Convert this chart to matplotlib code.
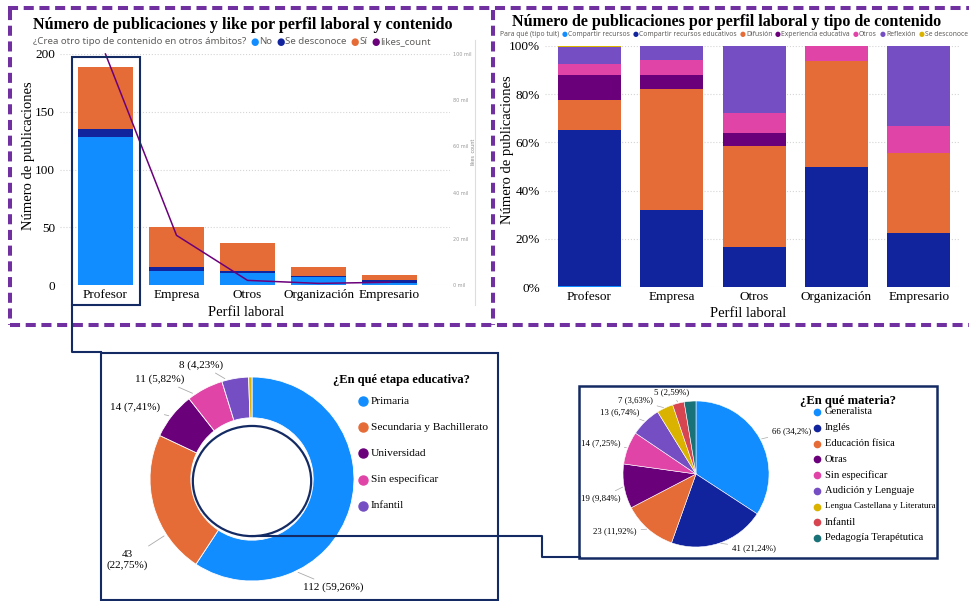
import numpy as np
import matplotlib
matplotlib.use('Agg')
import matplotlib.pyplot as plt
from matplotlib.patches import Rectangle, Ellipse

W, H = 970, 601
SERIF = 'Liberation Serif'
SANS = 'Noto Sans'
GREY = '#605E5C'
NAVY_LINE = '#142A63'
PURPLE_DASH = '#7030A0'

# Power BI palette
C_LBLUE = '#118DFF'
C_NAVY = '#12239E'
C_ORANGE = '#E66C37'
C_DPURPLE = '#6B007B'
C_PINK = '#E044A7'
C_VIOLET = '#744EC2'
C_GOLD = '#D9B300'
C_RED = '#D64550'
C_TEAL = '#197278'

# --- publicaciones y likes por perfil laboral ---
perfiles = ['Profesor', 'Empresa', 'Otros', 'Organización', 'Empresario']
crea_no = [128, 12, 10, 7, 2]
crea_desconoce = [7, 4, 2, 1, 2]
crea_si = [54, 34, 24, 8, 5]
likes_mil = [100, 21.5, 2, 0.7, 1.2]

# --- tipo de contenido por perfil laboral ---
tipos = ['Compartir recursos', 'Compartir recursos educativos', 'Difusión',
         'Experiencia educativa', 'Otros', 'Reflexión', 'Se desconoce']
t_compartir = [1, 0, 0, 0, 0]
t_compartir_edu = [122, 16, 6, 8, 2]
t_difusion = [24, 25, 15, 7, 3]
t_experiencia = [19, 3, 2, 0, 0]
t_otros = [9, 3, 3, 1, 1]
t_reflexion = [13, 3, 10, 0, 3]
t_desconoce = [1, 0, 0, 0, 0]

# --- etapa educativa ---
etapas = ['Primaria', 'Secundaria y Bachillerato', 'Universidad', 'Sin especificar', 'Infantil', 'Se desconoce']
etapa_n = [112, 43, 14, 11, 8, 1]

# --- materia ---
materias = ['Generalista', 'Inglés', 'Educación física', 'Otras', 'Sin especificar',
            'Audición y Lenguaje', 'Lengua Castellana y Literatura', 'Infantil',
            'Pedagogía Terapétutica']
materia_n = [66, 41, 23, 19, 14, 13, 7, 5, 5]


def box(x0, y0, x1, y1):
    return [x0 / W, 1 - y1 / H, (x1 - x0) / W, (y1 - y0) / H]


def pct_label(n, total):
    s = '{:.2f}'.format(100 * n / total).rstrip('0').rstrip('.')
    return '{} ({}%)'.format(n, s.replace('.', ','))


fig = plt.figure(figsize=(W / 100, H / 100), dpi=100)
ov = fig.add_axes([0, 0, 1, 1], zorder=10)
ov.set_xlim(0, W)
ov.set_ylim(H, 0)
ov.axis('off')
ov.patch.set_alpha(0)

x = np.arange(len(perfiles))

# left chart: stacked bars + likes line
ax1 = fig.add_axes(box(60, 54, 450, 285))
b1 = np.array(crea_no)
b2 = b1 + np.array(crea_desconoce)
ax1.bar(x, crea_no, 0.775, color=C_LBLUE, zorder=2)
ax1.bar(x, crea_desconoce, 0.775, bottom=b1, color=C_NAVY, zorder=2)
ax1.bar(x, crea_si, 0.775, bottom=b2, color=C_ORANGE, zorder=2)
ax1.set_xlim(-0.64, 4.85)
ax1.set_ylim(0, 200)
ax1.set_yticks([0, 50, 100, 150, 200])
ax1.grid(axis='y', linestyle=':', color='#d5d5d5', lw=0.8, zorder=0)
ax1.set_xticks(x, perfiles)
ax1.tick_params(length=0, labelsize=9.5)
ax1.tick_params(axis='x', pad=3)
for lab in ax1.get_xticklabels() + ax1.get_yticklabels():
    lab.set_family(SERIF)
ax1.set_xlabel('Perfil laboral', family=SERIF, fontsize=10.5)
ax1.xaxis.set_label_coords(0.476, -0.117)
ax1.xaxis.label.set_va('center')
ax1.set_ylabel('Número de publicaciones', family=SERIF, fontsize=10.5)
ax1.yaxis.set_label_coords(-0.08, 0.558)
ax1.yaxis.label.set_va('center')
for s in ax1.spines.values():
    s.set_visible(False)

ax1b = ax1.twinx()
ax1b.plot(x, likes_mil, color=C_DPURPLE, lw=1.1, clip_on=False, zorder=3)
ax1b.set_ylim(0, 100)
ax1b.set_yticks(range(0, 101, 20), ['{} mil'.format(v) for v in range(0, 101, 20)])
ax1b.tick_params(length=0, labelsize=3.5, labelcolor='#999999', pad=2)
ax1b.set_ylabel('likes_count', fontsize=3.5, color='#888888')
ax1b.yaxis.set_label_coords(1.05, 0.58)
for s in ax1b.spines.values():
    s.set_visible(False)
ov.plot([475, 475], [40, 305], color='#dddddd', lw=0.8)

# right chart: 100% stacked bars
ax2 = fig.add_axes(box(545, 46, 960, 287))
series = [t_compartir, t_compartir_edu, t_difusion, t_experiencia, t_otros, t_reflexion, t_desconoce]
colors2 = [C_LBLUE, C_NAVY, C_ORANGE, C_DPURPLE, C_PINK, C_VIOLET, C_GOLD]
totals = np.sum(np.array(series), axis=0)
bottom = np.zeros(len(perfiles))
for vals, col in zip(series, colors2):
    frac = np.array(vals) / totals
    ax2.bar(x, frac, 0.766, bottom=bottom, color=col, zorder=2)
    bottom += frac
ax2.set_xlim(-0.54, 4.5)
ax2.set_ylim(0, 1)
ax2.set_yticks(np.linspace(0, 1, 6), ['{}%'.format(v) for v in range(0, 101, 20)])
ax2.grid(axis='y', linestyle=':', color='#d5d5d5', lw=0.8, zorder=0)
ax2.set_xticks(x, perfiles)
ax2.tick_params(length=0, labelsize=9.5)
ax2.tick_params(axis='x', pad=3)
for lab in ax2.get_xticklabels() + ax2.get_yticklabels():
    lab.set_family(SERIF)
ax2.set_xlabel('Perfil laboral', family=SERIF, fontsize=10.5)
ax2.xaxis.set_label_coords(0.489, -0.108)
ax2.xaxis.label.set_va('center')
ax2.set_ylabel('Número de publicaciones', family=SERIF, fontsize=10.5)
ax2.yaxis.set_label_coords(-0.09, 0.57)
ax2.yaxis.label.set_va('center')
for s in ax2.spines.values():
    s.set_visible(False)

# titles
ov.text(33, 25, 'Número de publicaciones y like por perfil laboral y contenido',
        family=SERIF, fontweight='bold', fontsize=11.6, va='center')
ov.text(512, 22, 'Número de publicaciones por perfil laboral y tipo de contenido',
        family=SERIF, fontweight='bold', fontsize=11.6, va='center')

renderer = fig.canvas.get_renderer()


def inline_legend(x0, y, title, items, size, gap):
    t = ov.text(x0, y, title, family=SANS, fontsize=size, fontweight='bold', color=GREY, va='center')
    xc = t.get_window_extent(renderer).x1 + gap
    for label, col in items:
        d = ov.text(xc, y, '●', family='DejaVu Sans', fontsize=size, color=col, va='center')
        xc = d.get_window_extent(renderer).x1 + 0.5
        t = ov.text(xc, y, label, family=SANS, fontsize=size, color=GREY, va='center')
        xc = t.get_window_extent(renderer).x1 + gap


inline_legend(33, 42, '¿Crea otro tipo de contenido en otros ámbitos?',
              [('No', C_LBLUE), ('Se desconoce', C_NAVY), ('Sí', C_ORANGE), ('likes_count', C_DPURPLE)],
              6.95, 4)
inline_legend(500, 34, 'Para qué (tipo tuit)', list(zip(tipos, colors2)), 4.85, 2.7)

# donut: etapa educativa
colors3 = [C_LBLUE, C_ORANGE, C_DPURPLE, C_PINK, C_VIOLET, C_GOLD]
ax3 = fig.add_axes(box(150, 377, 354, 581))
wedges, _ = ax3.pie(etapa_n, colors=colors3, startangle=90, counterclock=False,
                    radius=1, wedgeprops=dict(width=0.4, edgecolor='white', linewidth=0.6))
ax3.add_patch(Ellipse((0, -0.02), 1.16, 1.08, fill=False, ec=NAVY_LINE, lw=1.6))
ax3.set_xlim(-1, 1)
ax3.set_ylim(-1, 1)
tot3 = sum(etapa_n)
# label anchor (x, y, align); leaders start on the ring towards the label
donut_text = [(0.50, -1.06, 'left'), (-1.22, -0.79, 'center'), (-0.90, 0.70, 'right'),
              (-0.66, 0.98, 'right'), (-0.28, 1.12, 'right'), None]
for n, pos in zip(etapa_n, donut_text):
    if pos is None:
        continue
    ang = np.arctan2(pos[1], pos[0])
    lab = pct_label(n, tot3)
    if pos[2] == 'center':
        lab = lab.replace(' ', '\n')
    ax3.annotate(lab, xy=(np.cos(ang), np.sin(ang)), xytext=(pos[0], pos[1]),
                 ha=pos[2], va='center', family=SERIF, fontsize=8, annotation_clip=False,
                 arrowprops=dict(arrowstyle='-', color='#aaaaaa', lw=0.6, shrinkA=1, shrinkB=2))

ov.text(333, 380, '¿En qué etapa educativa?', family=SERIF, fontweight='bold', fontsize=9, va='center')
for i, (name, col) in enumerate(zip(etapas[:5], colors3[:5])):
    yy = 401 + i * 26.2
    ov.plot(363, yy, 'o', ms=6.5, color=col)
    ov.text(371, yy, name, family=SERIF, fontsize=8.2, va='center')

# pie: materia
colors4 = [C_LBLUE, C_NAVY, C_ORANGE, C_DPURPLE, C_PINK, C_VIOLET, C_GOLD, C_RED, C_TEAL]
ax4 = fig.add_axes(box(623, 401, 769, 547))
wedges4, _ = ax4.pie(materia_n, colors=colors4, startangle=90, counterclock=False, radius=1,
                     wedgeprops=dict(edgecolor='white', linewidth=0.4))
ax4.set_xlim(-1, 1)
ax4.set_ylim(-1, 1)
tot4 = sum(materia_n)
pie_text = [(1.04, 0.58, 'left'), (0.49, -1.01, 'left'), (-0.81, -0.79, 'right'),
            (-1.04, -0.33, 'right'), (-1.04, 0.42, 'right'), (-0.77, 0.85, 'right'),
            (-0.59, 1.01, 'right'), (-0.33, 1.12, 'center'), None]
for w, n, pos in zip(wedges4, materia_n, pie_text):
    if pos is None:
        continue
    ang = np.deg2rad((w.theta1 + w.theta2) / 2)
    ax4.annotate(pct_label(n, tot4), xy=(np.cos(ang), np.sin(ang)), xytext=(pos[0], pos[1]),
                 ha=pos[2], va='center', family=SERIF, fontsize=6.3, annotation_clip=False,
                 arrowprops=dict(arrowstyle='-', color='#aaaaaa', lw=0.5, shrinkA=1, shrinkB=1))

ov.text(800, 401, '¿En qué materia?', family=SERIF, fontweight='bold', fontsize=9.1, va='center')
for i, (name, col) in enumerate(zip(materias, colors4)):
    yy = 412 + i * 15.75
    ov.plot(817, yy, 'o', ms=4.5, color=col)
    fs = 6.4 if len(name) > 25 else 7.6
    ov.text(825, yy, name, family=SERIF, fontsize=fs, va='center')

# dashed panel frames
dash = dict(color=PURPLE_DASH, lw=2.9, linestyle=(0, (2.5, 1.4)), solid_capstyle='butt')
ov.plot([8, 970], [8, 8], **dash)
ov.plot([10, 10], [10, 325], **dash)
ov.plot([493, 493], [10, 325], **dash)
ov.plot([10, 970], [325, 325], **dash)

# highlight boxes and connectors
ov.add_patch(Rectangle((72, 57), 68, 248, fill=False, ec=NAVY_LINE, lw=1.5))
ov.plot([72, 72, 101], [305, 352, 352], color=NAVY_LINE, lw=1.5)
ov.add_patch(Rectangle((101, 353), 397, 247, fill=False, ec=NAVY_LINE, lw=1.5))
ov.plot([252, 542, 542, 580], [536, 536, 557, 557], color=NAVY_LINE, lw=1.5)
ov.add_patch(Rectangle((579, 386), 358, 172, fill=False, ec=NAVY_LINE, lw=1.8))

fig.savefig('out.png', dpi=100)
